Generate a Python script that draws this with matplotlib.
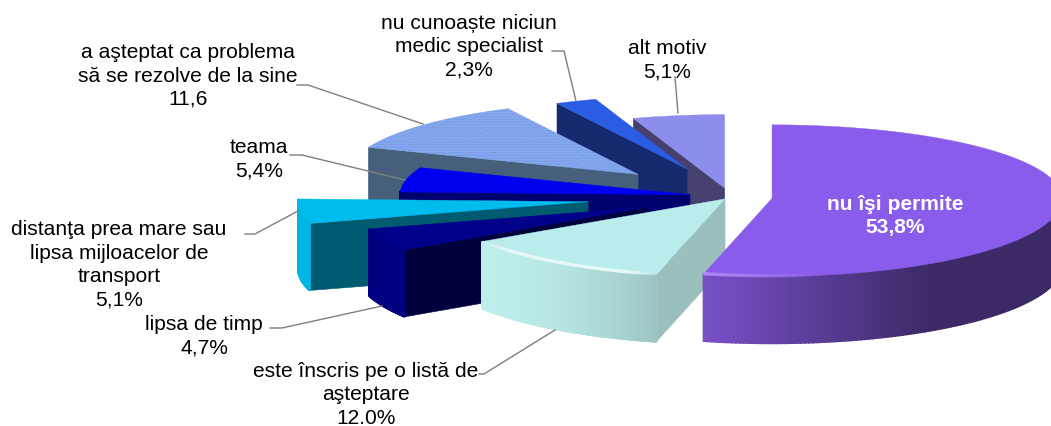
import numpy as np
import matplotlib
matplotlib.use('Agg')
import matplotlib.pyplot as plt
from matplotlib.colors import to_rgb
from matplotlib.patches import Polygon

# datele graficului, in ordinea feliilor (sens orar de la ora 12)
etichete = ['nu îşi permite\n53,8%',
            'este înscris pe o listă de\naşteptare\n12.0%',
            'lipsa de timp\n4,7%',
            'distanţa prea mare sau\nlipsa mijloacelor de\ntransport\n5,1%',
            'teama\n5,4%',
            'a aşteptat ca problema\nsă se rezolve de la sine\n11,6',
            'nu cunoaște niciun\nmedic specialist\n2,3%',
            'alt motiv\n5,1%']
valori = [53.8, 12.0, 4.7, 5.1, 5.4, 11.6, 2.3, 5.1]
explozie = [0.146, 0.03, 0.312, 0.493, 0.141, 0.43, 0.387, 0.115]

# culori: fata de sus, peretele radial, marginea (stanga -> dreapta)
culoare_sus = ['#8a5cec', '#b9ecea', '#00008a', '#00bcec', '#0000f0', '#86a9ee', '#2b5ce4', '#8d8dec']
culoare_rad = ['#3e2c6a', '#9bbfbd', '#00003c', '#005a70', '#00006e', '#46607c', '#142a6c', '#45406e']
margine_st = ['#7850c8', '#bdeeec', '#000080', '#00b4e4', '#00006e', '#46607c', '#142a6c', '#45406e']
margine_dr = ['#3b2a66', '#9cc4c2', '#000080', '#00b4e4', '#00006e', '#46607c', '#142a6c', '#45406e']
fade = [0.63, 1.0, 1.0, 1.0, 1.0, 1.0, 1.0, 1.0]
curba = [1.0, 1.8, 1.0, 1.0, 1.0, 1.0, 1.0, 1.0]
lumina = ['#b48cf8', '#f2fefd', None, None, None, None, None, None]
lumina_cat = [0.35, 1.0, 0, 0, 0, 0, 0, 0]

# geometria in pixeli
CX, CY = 730, 198
RX = 290
RY_SPATE, RY_FATA = 73.5, 78
H = 67


def punct(x0, y0, theta):
    t = np.radians(theta)
    c = np.cos(t)
    return x0 + RX * np.sin(t), y0 - np.where(c > 0, RY_SPATE, RY_FATA) * c


fig = plt.figure(figsize=(10.51, 4.27), dpi=100)
ax = fig.add_axes([0, 0, 1, 1])
ax.set_xlim(0, 1051)
ax.set_ylim(427, 0)
ax.axis('off')
plt.rcParams['hatch.linewidth'] = 0.6

unghiuri = np.concatenate([[0], np.cumsum(valori) * 3.6])

# de la spate spre fata, felia mare la sfarsit
for i in range(len(valori) - 1, -1, -1):
    a0, a1 = unghiuri[i], unghiuri[i + 1]
    mij = np.radians((a0 + a1) / 2)
    x0 = CX + explozie[i] * RX * np.sin(mij)
    y0 = CY - explozie[i] * RY_FATA * np.cos(mij)
    th = np.linspace(a0, a1, 240)
    xs, ys = punct(x0, y0, th)

    # peretele radial vizibil
    if i > 0:
        xa, ya = punct(x0, y0, a0)
        ax.add_patch(Polygon([(x0, y0), (xa, ya), (xa, ya + H), (x0, y0 + H)],
                             closed=True, fc=culoare_rad[i], ec=culoare_rad[i], lw=0.4))

    # marginea curbata, numai partea din fata, in fasii pentru degrade
    fata = np.cos(np.radians(th)) <= 0.05
    xmin, xmax = xs.min(), xs.max()
    st, dr = np.array(to_rgb(margine_st[i])), np.array(to_rgb(margine_dr[i]))
    for k in range(len(th) - 1):
        if not fata[k]:
            continue
        u = min(1, (0.5 * (xs[k] + xs[k + 1]) - xmin) / ((xmax - xmin) * fade[i]))
        c = st + (dr - st) * u ** curba[i]
        ax.add_patch(Polygon([(xs[k], ys[k]), (xs[k + 1], ys[k + 1]),
                              (xs[k + 1], ys[k + 1] + H), (xs[k], ys[k] + H)],
                             closed=True, fc=c, ec=c, lw=1.2))

    # fata de sus
    contur = np.column_stack([np.r_[x0, xs], np.r_[y0, ys]])
    ax.add_patch(Polygon(contur, closed=True, fc=culoare_sus[i], ec=culoare_sus[i], lw=0.3))
    if i == 5:
        ax.add_patch(Polygon(contur, closed=True, fc='none', ec='#6e94e0', lw=0, hatch='......'))

    # lumina de pe muchie, se stinge spre capete
    if lumina[i] is not None:
        for k in range(0, len(th) - 1):
            if not fata[k]:
                continue
            u = (xs[k] - xmin) / (xmax - xmin)
            if i == 0:
                al = max(0, 1 - u / lumina_cat[i])
            else:
                al = min(1, 6 * min(u, 1 - u))
            ax.plot(xs[k:k + 2], ys[k:k + 2] - 0.5, color=lumina[i], lw=2.4, alpha=al,
                    solid_capstyle='butt')

# linii de legatura
linii = [([297, 308, 423], [86, 86, 125]),
         ([552, 564, 576], [52, 52, 102]),
         ([675, 678], [78, 114]),
         ([290, 302, 405], [156, 156, 181]),
         ([245, 255, 298], [235, 235, 212]),
         ([270, 282, 382], [329, 329, 307]),
         ([479, 484, 555], [375, 375, 331])]
for lx, ly in linii:
    ax.plot(lx, ly, color='#7f7f7f', lw=1)

# etichete
poz = [(895, 216), (366, 395), (204, 336), (119, 265), (259, 159), (188, 76), (469, 47), (667, 60)]
for i, txt in enumerate(etichete):
    ax.text(poz[i][0], poz[i][1], txt, ha='center', va='center', ma='center',
            family='Liberation Sans', fontsize=15.1, linespacing=1.29,
            color='white' if i == 0 else 'black',
            fontweight='bold' if i == 0 else 'normal')

plt.savefig('out.png', dpi=100)
